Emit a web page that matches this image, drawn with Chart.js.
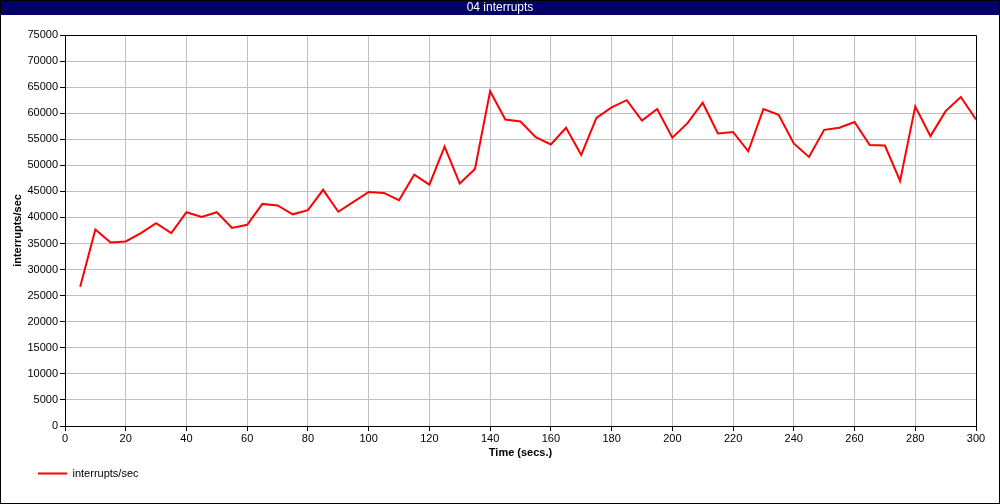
<!DOCTYPE html>
<html>
<head>
<meta charset="utf-8">
<title>04 interrupts</title>
<script src="https://cdn.jsdelivr.net/npm/chart.js@4.4.1/dist/chart.umd.min.js"></script>
<style>
  html, body { margin: 0; padding: 0; background: #fff; }
  #wrap { width: 1000px; height: 504px; }
</style>
</head>
<body>
<div id="wrap"><canvas id="chart" width="1000" height="504"></canvas></div>
<script>
// Data --------------------------------------------------------------------
var TITLE = "04 interrupts";
var SERIES_LABEL = "interrupts/sec";
var X_TITLE = "Time (secs.)";
var Y_TITLE = "interrupts/sec";

var times = [5, 10, 15, 20, 25, 30, 35, 40, 45, 50, 55, 60, 65, 70, 75, 80, 85, 90, 95, 100,
             105, 110, 115, 120, 125, 130, 135, 140, 145, 150, 155, 160, 165, 170, 175, 180, 185, 190, 195, 200,
             205, 210, 215, 220, 225, 230, 235, 240, 245, 250, 255, 260, 265, 270, 275, 280, 285, 290, 295, 300];

var interrupts = [26700, 37700, 35200, 35400, 37000, 38900, 37000, 41000, 40100, 41000,
                  38000, 38600, 42600, 42300, 40600, 41400, 45300, 41100, 43000, 44900,
                  44700, 43300, 48200, 46300, 53600, 46500, 49300, 64200, 58800, 58400,
                  55400, 54000, 57200, 52000, 59100, 61100, 62500, 58600, 60800, 55300,
                  58100, 62000, 56100, 56400, 52700, 60800, 59700, 54200, 51600, 56800,
                  57200, 58300, 53900, 53800, 47000, 61300, 55600, 60400, 63100, 58800];

var xMin = 0, xMax = 300, xStep = 20;
var yMin = 0, yMax = 75000, yStep = 5000;

// Theme --------------------------------------------------------------------
var FONT = "'Liberation Sans', Arial, Helvetica, sans-serif";
var NAVY = "#000066", RED = "#ff0000", GRID = "#c0c0c0";
Chart.defaults.font.family = FONT;
Chart.defaults.font.size = 11;
Chart.defaults.color = "#000";

// paints the white page, the navy title bar and the outer frame
var frame = {
  id: "frame",
  beforeDraw: function (c) {
    var ctx = c.ctx;
    ctx.save();
    ctx.fillStyle = "#fff";
    ctx.fillRect(0, 0, c.width, c.height);
    ctx.fillStyle = NAVY;
    ctx.fillRect(0, 0, c.width, 15);
    ctx.restore();
  },
  beforeDatasetsDraw: function (c) {
    var a = c.chartArea, ctx = c.ctx;
    ctx.save();
    ctx.strokeStyle = "#000";
    ctx.lineWidth = 1;
    ctx.beginPath();
    ctx.moveTo(a.left, Math.round(a.top) + 0.5);
    ctx.lineTo(Math.round(a.right) + 0.5, Math.round(a.top) + 0.5);
    ctx.lineTo(Math.round(a.right) + 0.5, a.bottom);
    ctx.stroke();
    ctx.restore();
  },
  afterDraw: function (c) {
    var ctx = c.ctx;
    ctx.save();
    ctx.strokeStyle = "#000";
    ctx.lineWidth = 1;
    ctx.strokeRect(0.5, 0.5, c.width - 1, c.height - 1);
    ctx.restore();
  },
  // title centred on the whole page, legend a bit in from the left edge
  afterLayout: function (c) {
    if (c.titleBlock) { c.titleBlock.left = 0; c.titleBlock.right = c.width; }
    if (c.legend) { c.legend.left += 29; c.legend.right += 29; }
  }
};

var points = times.map(function (t, i) { return { x: t, y: interrupts[i] }; });

new Chart(document.getElementById("chart"), {
  type: "line",
  data: {
    datasets: [{
      label: SERIES_LABEL,
      data: points,
      borderColor: RED,
      backgroundColor: RED,
      borderWidth: 2,
      pointRadius: 0,
      tension: 0,
      fill: false
    }]
  },
  options: {
    responsive: false,
    animation: false,
    layout: { padding: { left: 1, right: 24, top: 0, bottom: 15 } },
    plugins: {
      title: {
        display: true,
        text: TITLE,
        color: "#fff",
        font: { size: 12, weight: "normal" },
        padding: { top: 0, bottom: 20.6 }
      },
      legend: {
        position: "bottom",
        align: "start",
        labels: {
          boxWidth: 29,
          boxHeight: 2,
          padding: 8,
          font: { size: 11 },
          generateLabels: function (c) {
            return Chart.defaults.plugins.legend.labels.generateLabels(c).map(function (l) {
              l.lineWidth = 0;
              return l;
            });
          }
        }
      },
      tooltip: { enabled: false }
    },
    scales: {
      x: {
        type: "linear",
        min: xMin, max: xMax,
        ticks: { stepSize: xStep, padding: 1, maxRotation: 0 },
        grid: { color: GRID, tickColor: "#000", tickLength: 5 },
        border: { color: "#000" },
        title: { display: true, text: X_TITLE, font: { size: 11, weight: "bold" }, padding: { top: 0, bottom: 0 } },
        afterFit: function (s) { s.height = 34; }
      },
      y: {
        min: yMin, max: yMax,
        ticks: { stepSize: yStep, padding: 2, callback: function (v) { return String(v); } },
        grid: { color: GRID, tickColor: "#000", tickLength: 5 },
        border: { color: "#000" },
        title: { display: true, text: Y_TITLE, font: { size: 11, weight: "bold" }, padding: { top: 10, bottom: 0 } },
        afterFit: function (s) { s.width = 64; }
      }
    }
  },
  plugins: [frame]
});
</script>
</body>
</html>
